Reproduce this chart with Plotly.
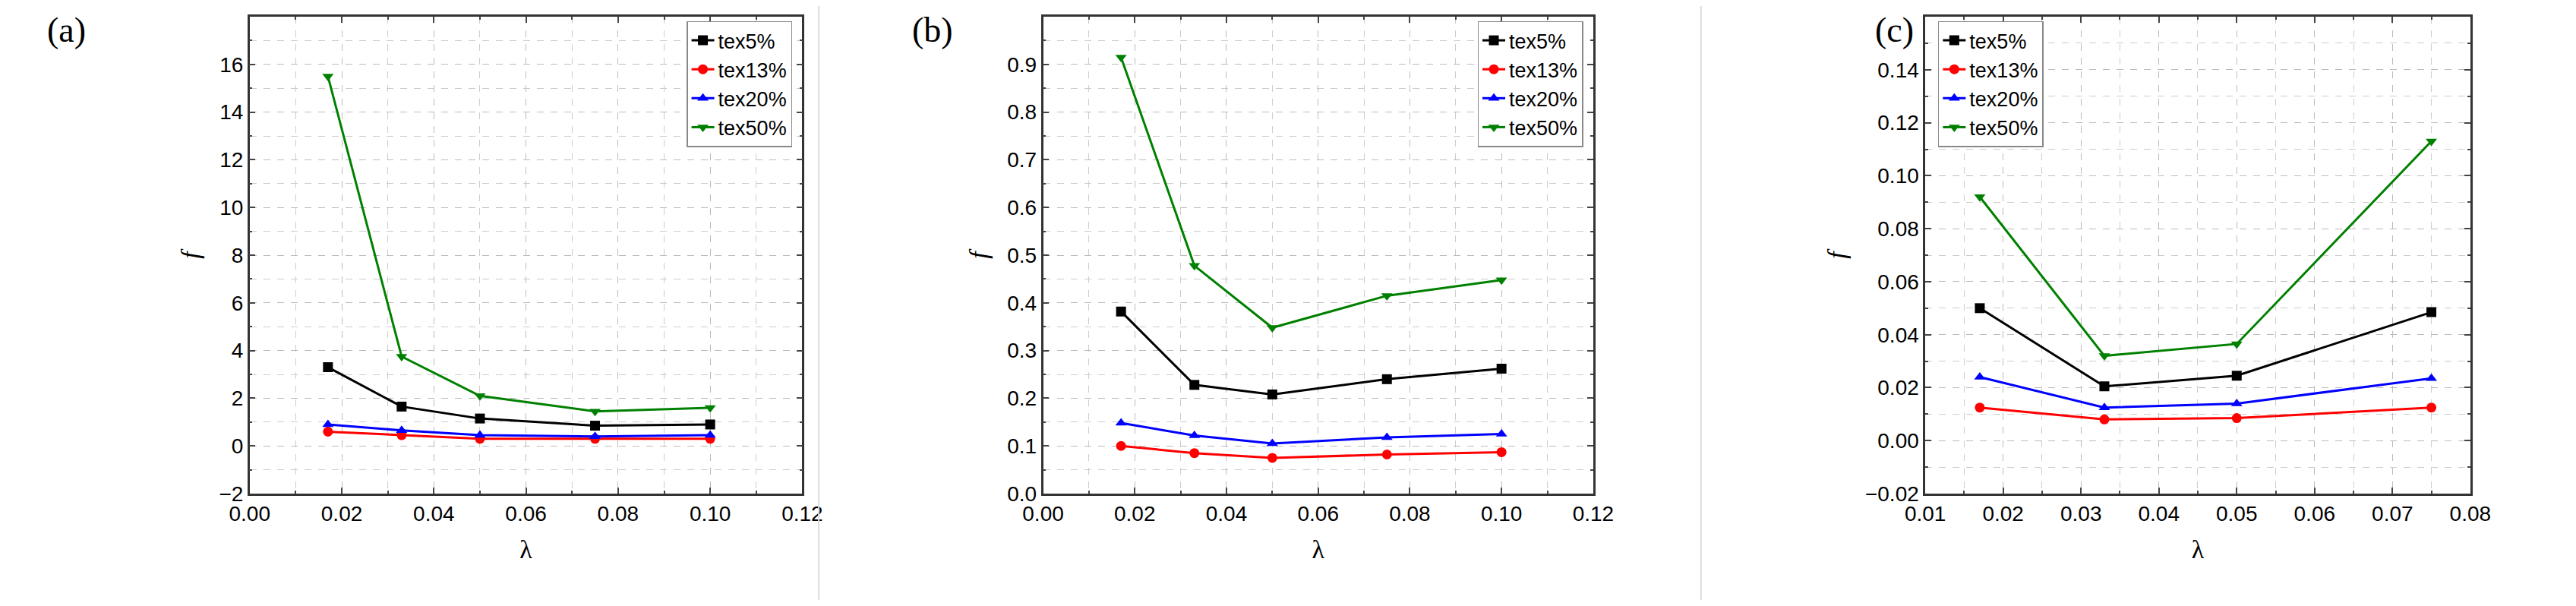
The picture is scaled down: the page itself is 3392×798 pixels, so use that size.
import plotly.graph_objects as go

x_ab = [0.017, 0.033, 0.05, 0.075, 0.1]
x_c = [0.017, 0.033, 0.05, 0.075]
series = ["tex5%", "tex13%", "tex20%", "tex50%"]
a_vals = [[3.3, 1.65, 1.15, 0.85, 0.9], [0.6, 0.45, 0.3, 0.3, 0.3],
          [0.9, 0.65, 0.45, 0.4, 0.45], [15.5, 3.75, 2.1, 1.45, 1.6]]
b_vals = [[0.382, 0.228, 0.208, 0.24, 0.262], [0.1, 0.085, 0.075, 0.082, 0.087],
          [0.148, 0.122, 0.105, 0.118, 0.125], [0.915, 0.478, 0.348, 0.415, 0.448]]
c_vals = [[0.050, 0.0205, 0.0245, 0.0485], [0.0125, 0.008, 0.0085, 0.0125],
          [0.024, 0.0125, 0.014, 0.0235], [0.092, 0.032, 0.0365, 0.113]]
colors = ["black", "red", "blue", "green"]
symbols = ["square", "circle", "triangle-up", "triangle-down"]

doms = [(0.088, 0.306), (0.401, 0.618), (0.749, 0.964)]
xr = [(0, 0.12, 0.02, 0.01), (0, 0.12, 0.02, 0.01), (0.01, 0.08, 0.01, 0.005)]
yr = [(-2, 18, 2, 1, "d"), (0, 1.0, 0.1, 0.05, ".1f"), (-0.02, 0.16, 0.02, 0.01, ".2f")]
legpos = [(0.302, 0.975, "right"), (0.614, 0.975, "right"), (0.754, 0.975, "left")]
labels = ["(a)", "(b)", "(c)"]
labx = [0.024, 0.366, 0.745]
data = [(x_ab, a_vals), (x_ab, b_vals), (x_c, c_vals)]
tickfont = dict(family="Liberation Sans Narrow, Liberation Sans, Arial", size=28, color="black")

fig = go.Figure()
for p in range(3):
    xs, vals = data[p]
    sfx = "" if p == 0 else str(p + 1)
    for i in range(4):
        fig.add_trace(go.Scatter(x=xs, y=vals[i], name=series[i], mode="lines+markers",
                                 line=dict(color=colors[i], width=3),
                                 marker=dict(symbol=symbols[i], size=13, color=colors[i]),
                                 xaxis="x" + sfx, yaxis="y" + sfx,
                                 legend="legend" + sfx, showlegend=True))
    x0, x1, xd, xm = xr[p]
    y0, y1, yd, ym, yf = yr[p]
    common = dict(showline=True, linewidth=2.5, linecolor="#333", mirror="ticks", ticks="inside",
                  ticklen=8, tickwidth=2, showgrid=True, gridcolor="#bbb", griddash="dash",
                  gridwidth=1, zeroline=False, tickfont=tickfont)
    fig.layout["xaxis" + sfx] = dict(domain=list(doms[p]), range=[x0, x1], dtick=xd, tick0=x0,
                                     tickformat=".2f", anchor="y" + sfx,
                                     minor=dict(dtick=xm, ticks="inside", ticklen=4, showgrid=True,
                                                gridcolor="#ccc", griddash="dash"),
                                     title=dict(text="λ", font=dict(family="Liberation Serif", size=34, color="black"), standoff=20),
                                     **common)
    fig.layout["yaxis" + sfx] = dict(domain=[0.179, 0.982], range=[y0, y1], dtick=yd, tick0=y0,
                                     tickformat=yf, anchor="x" + sfx,
                                     minor=dict(dtick=ym, ticks="inside", ticklen=4, showgrid=True,
                                                gridcolor="#ccc", griddash="dash"),
                                     title=dict(text="<i>f</i>", font=dict(family="Liberation Serif", size=34, color="black"), standoff=16),
                                     **common)
    lx, ly, anc = legpos[p]
    fig.layout["legend" + sfx] = dict(x=lx, y=ly, xanchor=anc, yanchor="top", bgcolor="white",
                                      bordercolor="#888", borderwidth=1.5, tracegroupgap=0,
                                      font=dict(family="Liberation Sans Narrow, Liberation Sans, Arial", size=27, color="black"))
    fig.add_annotation(text=labels[p], xref="paper", yref="paper", x=labx[p], y=0.995,
                       xanchor="right", yanchor="top", showarrow=False,
                       font=dict(family="Liberation Serif", size=46, color="black"))

for xs in [0.3125, 0.6605]:
    fig.add_shape(type="line", xref="paper", yref="paper", x0=xs, x1=xs, y0=0, y1=1,
                  line=dict(color="#ddd", width=2))

fig.update_layout(width=3392, height=798, margin=dict(l=0, r=0, t=0, b=0),
                  plot_bgcolor="white", paper_bgcolor="white")
fig.write_html("out.html")
